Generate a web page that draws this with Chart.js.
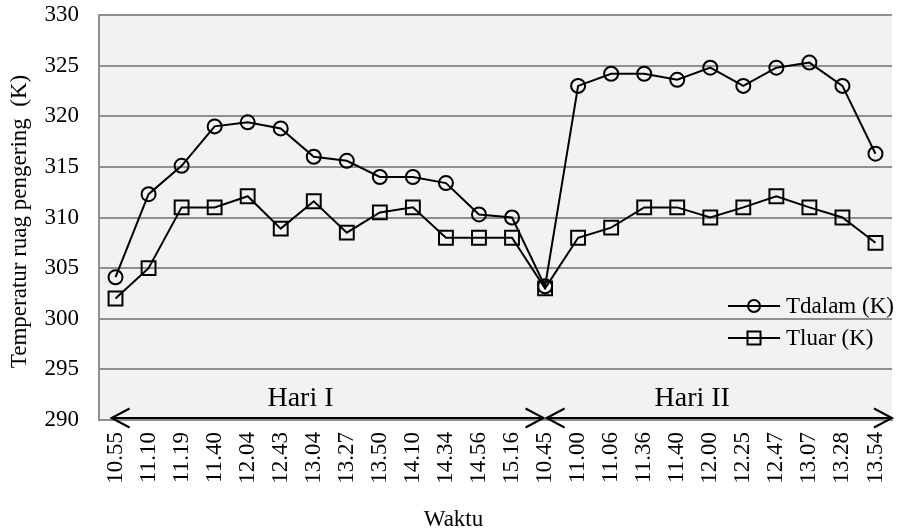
<!DOCTYPE html>
<html>
<head>
<meta charset="utf-8">
<script src="https://cdn.jsdelivr.net/npm/chart.js@4.4.1/dist/chart.umd.min.js"></script>
<style>
  html, body { margin: 0; padding: 0; background: #ffffff; }
  #wrap { width: 899px; height: 532px; position: relative; }
</style>
</head>
<body>
<div id="wrap"><canvas id="c"></canvas></div>
<script>
// ---- data ----
const categories = ['10.55','11.10','11.19','11.40','12.04','12.43','13.04','13.27','13.50','14.10','14.34','14.56','15.16','10.45','11.00','11.06','11.36','11.40','12.00','12.25','12.47','13.07','13.28','13.54'];
const tdalam = [304.1,312.3,315.1,319.0,319.4,318.8,316.0,315.6,314.0,314.0,313.4,310.3,310.0,303.2,323.0,324.2,324.2,323.6,324.8,323.0,324.8,325.3,323.0,316.3];
const tluar  = [302.0,305.0,311.0,311.0,312.1,308.9,311.6,308.5,310.5,311.0,308.0,308.0,308.0,303.0,308.0,309.0,311.0,311.0,310.0,311.0,312.1,311.0,310.0,307.5];
const seriesNames = ['Tdalam (K)', 'Tluar (K)'];
const yMin = 290, yMax = 330, yStep = 5;
const dayLabels = ['Hari I', 'Hari II'];
const dayStartIndex = [0, 13];
const yTitle = 'Temperatur ruag pengering  (K)';
const xTitle = 'Waktu';

const FONT = "'Liberation Serif', 'Times New Roman', serif";
const GRID = '#8f8f8f';

const bgPlugin = {
  id: 'plotBg',
  beforeDraw(chart) {
    const {ctx, chartArea: a} = chart;
    ctx.save();
    ctx.fillStyle = '#f2f2f2';
    ctx.fillRect(a.left, a.top, a.right - a.left, a.bottom - a.top);
    ctx.restore();
  }
};

function arrowHead(ctx, x, y, dir) {
  ctx.beginPath();
  ctx.moveTo(x - dir * 18, y - 9.5);
  ctx.lineTo(x, y);
  ctx.lineTo(x - dir * 18, y + 9.5);
  ctx.stroke();
}

const overlayPlugin = {
  id: 'overlay',
  afterDraw(chart) {
    const {ctx, chartArea: a} = chart;
    const xs = chart.scales.x;
    const step = xs.getPixelForValue(1) - xs.getPixelForValue(0);
    const y = a.bottom - 2;
    ctx.save();
    ctx.strokeStyle = '#000';
    ctx.lineWidth = 2;
    ctx.lineCap = 'butt';
    const spans = [
      [xs.getPixelForValue(dayStartIndex[0]) - 0.12 * step, xs.getPixelForValue(dayStartIndex[1]) - 1.5],
      [xs.getPixelForValue(dayStartIndex[1]) + 1.5, a.right]
    ];
    spans.forEach((s, i) => {
      ctx.beginPath();
      ctx.moveTo(s[0], y);
      ctx.lineTo(s[1], y);
      ctx.stroke();
      arrowHead(ctx, s[0], y, -1);
      arrowHead(ctx, s[1], y, 1);
      ctx.fillStyle = '#000';
      ctx.font = '28px ' + FONT;
      ctx.textAlign = 'center';
      ctx.textBaseline = 'alphabetic';
      ctx.fillText(dayLabels[i], (s[0] + s[1]) / 2 - 0.82 * step, a.bottom - 14);
    });

    // legend
    ctx.font = '23px ' + FONT;
    ctx.textAlign = 'left';
    ctx.textBaseline = 'middle';
    const lx0 = a.right - 164, lx1 = a.right - 112, mx = (lx0 + lx1) / 2;
    const rows = [a.bottom - 114, a.bottom - 82];
    rows.forEach((ry, i) => {
      ctx.beginPath();
      ctx.moveTo(lx0, ry); ctx.lineTo(lx1, ry);
      ctx.stroke();
      ctx.beginPath();
      if (i === 0) {
        ctx.arc(mx, ry, 6, 0, Math.PI * 2);
      } else {
        ctx.rect(mx - 6.5, ry - 6.5, 13, 13);
      }
      ctx.stroke();
      ctx.fillText(seriesNames[i], lx1 + 6, ry + 1);
    });

    // axis titles
    ctx.textAlign = 'center';
    ctx.textBaseline = 'middle';
    ctx.fillText(xTitle, chart.width / 2 + 4, chart.height - 12);
    ctx.save();
    ctx.translate(20, (a.top + a.bottom) / 2 + 4);
    ctx.rotate(-Math.PI / 2);
    ctx.fillText(yTitle, 0, 0);
    ctx.restore();
    ctx.restore();
  }
};

new Chart(document.getElementById('c'), {
  type: 'line',
  data: {
    labels: categories,
    datasets: [
      {
        label: seriesNames[0], data: tdalam,
        borderColor: '#000', borderWidth: 2, tension: 0,
        pointStyle: 'circle', pointRadius: 7, pointBorderWidth: 2,
        pointBorderColor: '#000', pointBackgroundColor: 'rgba(0,0,0,0)'
      },
      {
        label: seriesNames[1], data: tluar,
        borderColor: '#000', borderWidth: 2, tension: 0,
        pointStyle: 'rect', pointRadius: 9.8, pointBorderWidth: 2,
        pointBorderColor: '#000', pointBackgroundColor: 'rgba(0,0,0,0)'
      }
    ]
  },
  options: {
    responsive: true,
    maintainAspectRatio: false,
    animation: false,
    layout: { autoPadding: false, padding: { top: 15, right: 7, left: 0, bottom: 0 } },
    plugins: { legend: { display: false }, tooltip: { enabled: false }, title: { display: false } },
    scales: {
      x: {
        offset: true,
        grid: { display: false, drawTicks: false },
        border: { display: true, color: GRID, width: 2 },
        ticks: {
          autoSkip: false, maxRotation: 90, minRotation: 90,
          padding: 12, color: '#000',
          font: { family: FONT, size: 23 }
        },
        afterFit(s) { s.height = 112; s.paddingLeft = 0; s.paddingRight = 0; s.paddingTop = 0; s.paddingBottom = 0; }
      },
      y: {
        min: yMin, max: yMax,
        grid: { color: GRID, lineWidth: 2, drawTicks: false },
        border: { display: true, color: GRID, width: 2 },
        ticks: {
          stepSize: yStep, padding: 20, color: '#000',
          font: { family: FONT, size: 23 }
        },
        afterFit(s) { s.width = 99; s.paddingTop = 0; s.paddingBottom = 0; s.paddingLeft = 0; s.paddingRight = 0; }
      }
    }
  },
  plugins: [bgPlugin, overlayPlugin]
});
</script>
</body>
</html>
